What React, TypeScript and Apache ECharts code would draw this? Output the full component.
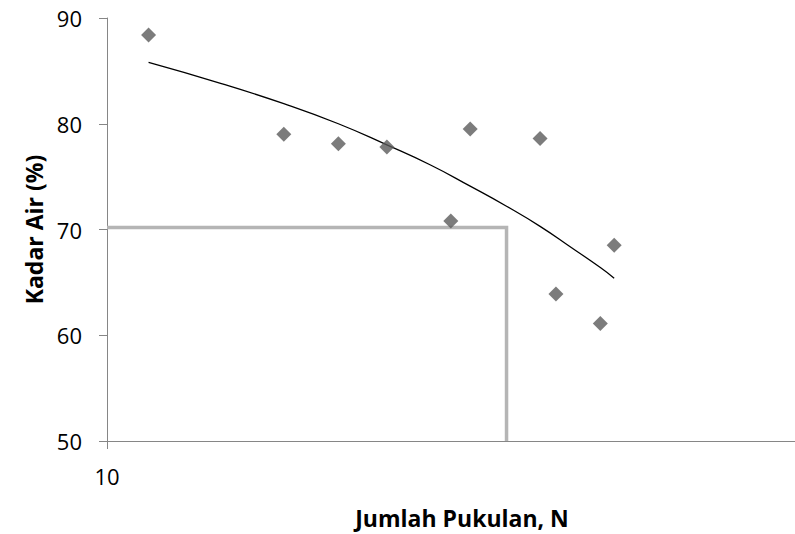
import React, { useEffect, useRef } from "react";
import * as echarts from "echarts";

// Data points: Jumlah Pukulan (N) and Kadar Air (%)
const blowCounts = [11, 15, 17, 19, 22, 23, 27, 28, 31, 32];
const waterContent = [88.4, 79.0, 78.1, 77.8, 70.8, 79.5, 78.6, 63.9, 61.1, 68.5];

// Trend line
const trendN = [11, 13, 15, 17, 19, 21, 23, 25, 27, 29, 31, 32];
const trendW = [85.8, 83.8, 81.9, 80.0, 78.0, 76.1, 74.1, 72.2, 70.3, 68.3, 66.4, 65.4];

// Reference (N = 25) guide lines
const guideN = [10, 25, 25];
const guideW = [70.2, 70.2, 50];

const yTicks = [50, 60, 70, 80, 90];

const FONT = "Open Sans";

export default function App() {
  const ref = useRef<HTMLDivElement>(null);

  useEffect(() => {
    if (!ref.current) return;
    const chart = echarts.init(ref.current, undefined, { renderer: "svg" });
    chart.setOption({
      animation: false,
      backgroundColor: "#ffffff",
      grid: {
        left: 107,
        top: 18,
        width: 1004,
        height: 423,
        containLabel: false,
        outerBoundsMode: "none",
      },
      xAxis: {
        type: "log",
        logBase: 10,
        min: 10,
        max: 100,
        axisLine: { show: true, lineStyle: { color: "#868686", width: 1 } },
        axisTick: { show: true, length: 8, lineStyle: { color: "#868686" } },
        minorTick: { show: false },
        splitLine: { show: false },
        axisLabel: {
          color: "#000",
          fontFamily: FONT,
          fontSize: 22,
          margin: 24,
          showMaxLabel: false,
        },
      },
      yAxis: {
        type: "value",
        min: yTicks[0],
        max: yTicks[yTicks.length - 1],
        interval: 10,
        axisLine: { show: true, lineStyle: { color: "#868686", width: 1 } },
        axisTick: { show: true, length: 8, lineStyle: { color: "#868686" } },
        splitLine: { show: false },
        axisLabel: {
          color: "#000",
          fontFamily: FONT,
          fontSize: 22,
          margin: 25,
        },
        name: "Kadar Air (%)",
        nameLocation: "middle",
        nameRotate: 90,
        nameGap: 60,
        nameTextStyle: {
          color: "#000",
          fontFamily: FONT,
          fontSize: 23,
          fontWeight: "bold",
        },
      },
      graphic: [
        {
          type: "text",
          x: 462,
          y: 518,
          style: {
            text: "Jumlah Pukulan, N",
            fill: "#000",
            font: `bold 23px "${FONT}"`,
            textAlign: "center",
            textVerticalAlign: "middle",
          },
        },
      ],
      series: [
        {
          type: "line",
          data: guideN.map((n, i) => [n, guideW[i]]),
          showSymbol: false,
          symbol: "none",
          lineStyle: { color: "#b5b5b5", width: 3.5, join: "miter" },
          z: 1,
        },
        {
          type: "line",
          data: trendN.map((n, i) => [n, trendW[i]]),
          smooth: true,
          showSymbol: false,
          symbol: "none",
          lineStyle: { color: "#000", width: 1.3 },
          z: 2,
        },
        {
          type: "scatter",
          data: blowCounts.map((n, i) => [n, waterContent[i]]),
          symbol: "diamond",
          symbolSize: 15,
          itemStyle: { color: "#5b5b5b" },
          z: 3,
        },
      ],
    });
    return () => chart.dispose();
  }, []);

  return (
    <div
      ref={ref}
      style={{ position: "absolute", left: 0, top: 0, width: 795, height: 534 }}
    />
  );
}
